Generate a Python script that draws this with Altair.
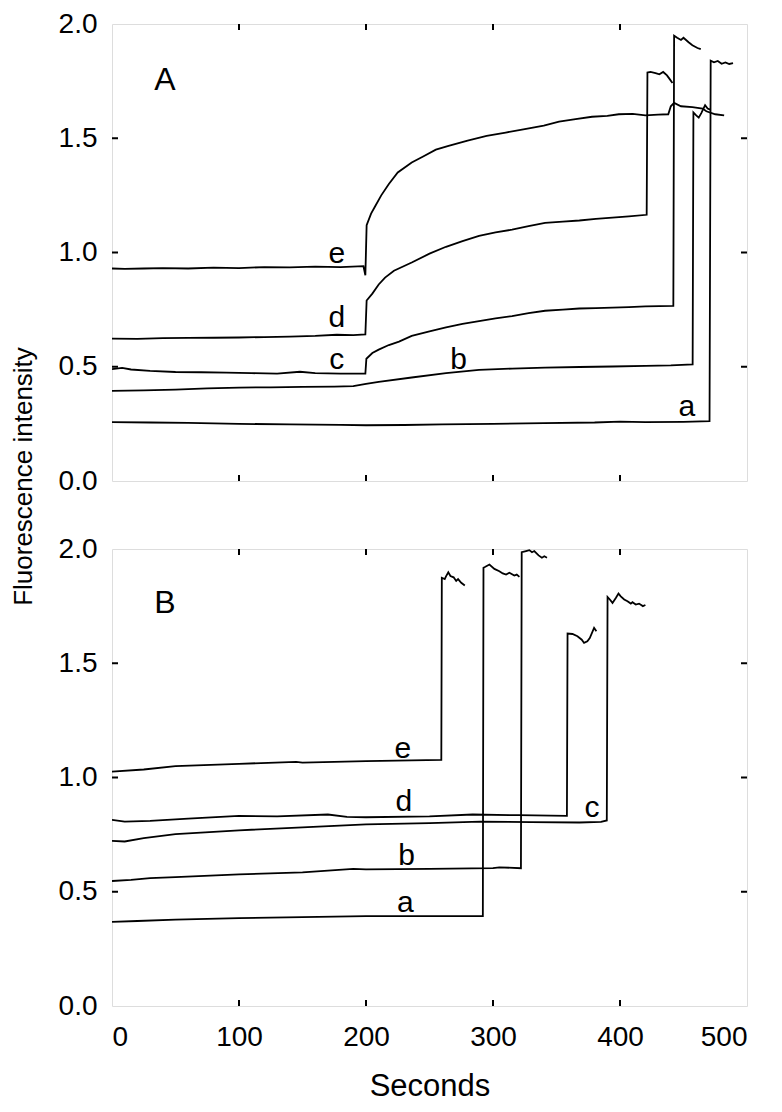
import altair as alt
import pandas as pd

FONT = "Liberation Sans"

# ---------------- Panel A traces (seconds, fluorescence) ----------------
A_a_t = [0, 30, 60, 100, 140, 180, 200, 230, 260, 300, 340, 380, 400, 420, 450, 470.5, 471.4, 474, 477, 480, 483, 486, 489]
A_a_v = [0.258, 0.256, 0.254, 0.25, 0.248, 0.246, 0.244, 0.245, 0.248, 0.25, 0.253, 0.256, 0.26, 0.258, 0.259, 0.262, 1.839, 1.832, 1.838, 1.826, 1.832, 1.825, 1.829]

A_b_t = [0, 25, 50, 75, 100, 125, 150, 175, 190, 200, 210, 236, 263, 289, 315, 341, 368, 394, 420, 440, 457.2, 457.8, 460, 462, 464, 467, 469, 471]
A_b_v = [0.394, 0.397, 0.4, 0.405, 0.409, 0.41, 0.412, 0.413, 0.415, 0.425, 0.434, 0.453, 0.472, 0.486, 0.492, 0.496, 0.499, 0.501, 0.504, 0.506, 0.51, 1.613, 1.6, 1.59, 1.61, 1.645, 1.63, 1.625]

A_c_t = [0, 8, 15, 30, 50, 70, 90, 110, 130, 148, 160, 180, 199.5, 200.3, 205, 210, 218, 226, 236, 250, 263, 276, 289, 302, 315, 328, 341, 355, 368, 381, 394, 407, 420, 431, 442, 442.6, 445, 448, 450, 454, 457, 461, 463.6]
A_c_v = [0.49, 0.495, 0.488, 0.482, 0.477, 0.476, 0.474, 0.472, 0.47, 0.478, 0.472, 0.47, 0.47, 0.535, 0.56, 0.575, 0.595, 0.61, 0.635, 0.655, 0.672, 0.688, 0.7, 0.712, 0.722, 0.735, 0.745, 0.75, 0.755, 0.757, 0.759, 0.761, 0.764, 0.765, 0.766, 1.949, 1.94, 1.93, 1.94, 1.92, 1.907, 1.895, 1.89]

A_d_t = [0, 20, 40, 60, 80, 100, 120, 140, 160, 177, 190, 199.5, 200.5, 205, 210, 215, 222, 236, 250, 263, 276, 289, 302, 315, 328, 341, 355, 368, 381, 394, 407, 421, 421.6, 424, 428, 431, 434, 437, 439, 441.3]
A_d_v = [0.623, 0.622, 0.625, 0.626, 0.627, 0.628, 0.63, 0.632, 0.635, 0.64, 0.638, 0.642, 0.79, 0.82, 0.86, 0.89, 0.92, 0.956, 0.995, 1.025, 1.05, 1.073, 1.088, 1.1, 1.115, 1.13, 1.135, 1.14, 1.147, 1.153, 1.158, 1.165, 1.788, 1.79, 1.785, 1.78, 1.79, 1.775, 1.76, 1.742]

A_e_t = [0, 10, 25, 40, 60, 80, 100, 120, 140, 160, 180, 198, 199.5, 200.5, 204, 207, 212, 218, 225, 236, 245, 255, 265, 280, 295, 310, 325, 340, 352, 365, 378, 390, 399, 410, 420, 430, 438, 440, 442.6, 448, 457, 465, 468, 475, 482]
A_e_v = [0.93, 0.928, 0.93, 0.932, 0.93, 0.934, 0.932, 0.936, 0.935, 0.938, 0.936, 0.94, 0.9, 1.12, 1.17, 1.2, 1.25, 1.3, 1.35, 1.394, 1.42, 1.45, 1.467, 1.49, 1.51, 1.525, 1.54, 1.555, 1.573, 1.584, 1.594, 1.598, 1.605, 1.607, 1.6, 1.603, 1.605, 1.64, 1.655, 1.64, 1.636, 1.63, 1.618, 1.605, 1.6]

# ---------------- Panel B traces ----------------
B_a_t = [0, 20, 50, 100, 150, 200, 250, 292, 292.5, 294, 297.2, 301.1, 305, 307.7, 310.3, 312.9, 316.8, 318.7, 320.8]
B_a_v = [0.368, 0.372, 0.378, 0.385, 0.389, 0.393, 0.393, 0.393, 1.918, 1.922, 1.932, 1.913, 1.903, 1.893, 1.888, 1.896, 1.884, 1.888, 1.878]

B_b_t = [0, 15, 30, 50, 100, 150, 190, 200, 250, 300, 305, 322, 322.6, 326, 328.6, 330.7, 332.5, 335.9, 338.5, 340.4, 342.5]
B_b_v = [0.547, 0.552, 0.56, 0.564, 0.576, 0.585, 0.6, 0.598, 0.6, 0.603, 0.607, 0.603, 1.986, 1.991, 1.995, 1.986, 1.991, 1.972, 1.962, 1.968, 1.962]

B_c_t = [0, 10, 25, 50, 100, 150, 200, 250, 290, 330, 368, 385, 389.6, 390.2, 392, 394.1, 396.7, 398.8, 400.6, 403.3, 405.9, 408.5, 409.8, 412.4, 415, 418, 420]
B_c_v = [0.723, 0.72, 0.735, 0.752, 0.769, 0.782, 0.795, 0.8, 0.807, 0.805, 0.803, 0.806, 0.812, 1.79, 1.779, 1.764, 1.786, 1.805, 1.793, 1.779, 1.771, 1.761, 1.767, 1.757, 1.761, 1.75, 1.755]

B_d_t = [0, 10, 30, 60, 100, 130, 170, 185, 200, 250, 284, 320, 358.2, 358.7, 362.6, 366.5, 369.9, 371.7, 374.3, 376.2, 379.6, 381.4]
B_d_v = [0.815, 0.807, 0.81, 0.82, 0.832, 0.83, 0.838, 0.828, 0.826, 0.83, 0.838, 0.835, 0.832, 1.63, 1.628, 1.618, 1.603, 1.589, 1.596, 1.61, 1.655, 1.64]

B_e_t = [0, 25, 50, 100, 145, 150, 200, 259.3, 259.7, 262, 263, 264.8, 266.5, 269, 271, 272.5, 275, 277.8]
B_e_v = [1.026, 1.035, 1.05, 1.06, 1.068, 1.065, 1.072, 1.077, 1.874, 1.868, 1.88, 1.898, 1.882, 1.876, 1.86, 1.868, 1.852, 1.84]

# ---------------- Curve labels ----------------
A_lab = ["e", "d", "c", "b", "a"]
A_lab_t = [177, 177, 177, 273, 452.6]
A_lab_v = [0.956, 0.672, 0.489, 0.489, 0.285]

B_lab = ["e", "d", "c", "b", "a"]
B_lab_t = [229, 229.7, 378, 232, 231]
B_lab_v = [1.085, 0.855, 0.826, 0.615, 0.41]

panel_names = ["A", "B"]
panel_name_t = [41.7, 41.7]
panel_name_v = [1.712, 1.718]

y_tick_vals = [0.0, 0.5, 1.0, 1.5, 2.0]
y_inner_ticks = [0.5, 1.0, 1.5]
x_tick_vals = [0, 100, 200, 300, 400, 500]
x_inner_ticks = [100, 200, 300, 400]

W, H = 635, 457
TICK = 6


def traces(series):
    rows = []
    for name, ts, vs in series:
        for i, (t, v) in enumerate(zip(ts, vs)):
            rows.append({"series": name, "i": i, "t": t, "v": v})
    return pd.DataFrame(rows)


def panel(series, labs, lab_t, lab_v, pname, pt, pv, is_bottom, is_top):
    xaxis = alt.Axis(
        values=x_tick_vals, labels=is_bottom, ticks=False, domain=False, grid=False,
        labelFontSize=28, labelFont=FONT, labelColor="black", labelPadding=17,
        title="Seconds" if is_bottom else None, titleFontSize=31, titleFont=FONT,
        titleFontWeight="normal", titleColor="black", titlePadding=20,
    )
    if is_top:
        yaxis = alt.Axis(
            values=y_tick_vals, format=".1f", ticks=False, domain=False, grid=False,
            labelFontSize=28, labelFont=FONT, labelColor="black", labelPadding=15,
            title="Fluorescence intensity", titleFontSize=26, titleFont=FONT,
            titleFontWeight="normal", titleColor="black", titleAngle=270,
            titleAlign="center", titleBaseline="alphabetic", titleX=-81, titleY=452,
        )
    else:
        yaxis = alt.Axis(
            values=y_tick_vals, format=".1f", ticks=False, domain=False, grid=False,
            labelFontSize=28, labelFont=FONT, labelColor="black", labelPadding=15,
            title=None,
        )
    xs = alt.Scale(domain=[0, 500], nice=False, zero=False)
    ys = alt.Scale(domain=[0, 2], nice=False, zero=False)
    X = alt.X("t:Q", scale=xs, axis=xaxis)
    Y = alt.Y("v:Q", scale=ys, axis=yaxis)

    lines = alt.Chart(traces(series)).mark_line(
        color="black", strokeWidth=1.8, strokeJoin="miter", clip=True
    ).encode(x=X, y=Y, detail="series:N", order="i:Q")

    labdf = pd.DataFrame({"lab": labs, "t": lab_t, "v": lab_v})
    labels = alt.Chart(labdf).mark_text(
        font=FONT, fontSize=30, color="black", align="center", baseline="alphabetic"
    ).encode(x=X, y=Y, text="lab:N")

    pdf = pd.DataFrame({"lab": [pname], "t": [pt], "v": [pv]})
    plabel = alt.Chart(pdf).mark_text(
        font=FONT, fontSize=32, color="black", align="center", baseline="alphabetic"
    ).encode(x=X, y=Y, text="lab:N")

    ydf = pd.DataFrame({"v": y_inner_ticks})
    xdf = pd.DataFrame({"t": x_inner_ticks})
    lt = alt.Chart(ydf).mark_rule(color="black", strokeWidth=2).encode(
        y=Y, x=alt.value(0), x2=alt.value(TICK))
    rt = alt.Chart(ydf).mark_rule(color="black", strokeWidth=2).encode(
        y=Y, x=alt.value(W - TICK), x2=alt.value(W))
    tt = alt.Chart(xdf).mark_rule(color="black", strokeWidth=2).encode(
        x=X, y=alt.value(0), y2=alt.value(TICK))
    bt = alt.Chart(xdf).mark_rule(color="black", strokeWidth=2).encode(
        x=X, y=alt.value(H - TICK), y2=alt.value(H))

    return alt.layer(lines, labels, plabel, lt, rt, tt, bt).properties(width=W, height=H)


pA = panel(
    [("a", A_a_t, A_a_v), ("b", A_b_t, A_b_v), ("c", A_c_t, A_c_v),
     ("d", A_d_t, A_d_v), ("e", A_e_t, A_e_v)],
    A_lab, A_lab_t, A_lab_v, panel_names[0], panel_name_t[0], panel_name_v[0],
    is_bottom=False, is_top=True,
)
pB = panel(
    [("a", B_a_t, B_a_v), ("b", B_b_t, B_b_v), ("c", B_c_t, B_c_v),
     ("d", B_d_t, B_d_v), ("e", B_e_t, B_e_v)],
    B_lab, B_lab_t, B_lab_v, panel_names[1], panel_name_t[1], panel_name_v[1],
    is_bottom=True, is_top=False,
)

chart = alt.vconcat(pA, pB, spacing=68, bounds="flush").properties(
    padding={"left": 1, "top": 1, "right": 5, "bottom": 5}
).configure_view(
    stroke="black", strokeWidth=2
).configure(background="white")

chart.save("out.html", embed_options={"renderer": "svg", "actions": False})
